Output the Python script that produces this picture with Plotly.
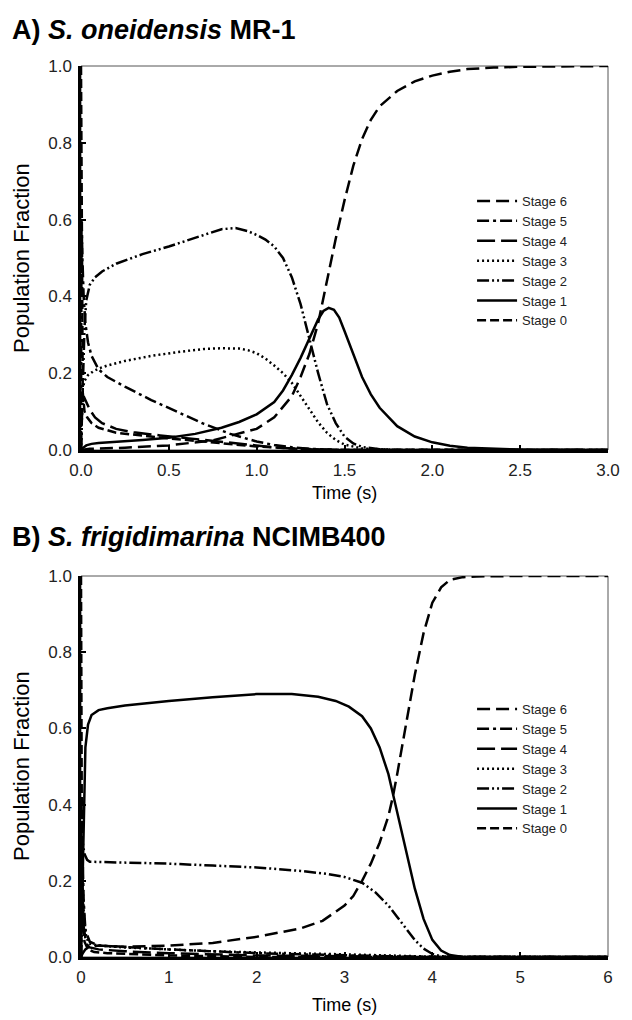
import plotly.graph_objects as go

# ---------------- Panel A: S. oneidensis MR-1 (time in s, fraction) ----------------
a_t6 = [0, 0.05, 0.25, 0.5, 0.75, 1.0, 1.1, 1.2, 1.25, 1.3, 1.35, 1.4, 1.45, 1.5, 1.55, 1.6, 1.65, 1.7, 1.8, 1.9, 2.0, 2.1, 2.2, 2.35, 2.5, 3.0]
a_f6 = [0, 0.003, 0.006, 0.012, 0.025, 0.055, 0.085, 0.14, 0.19, 0.25, 0.33, 0.44, 0.55, 0.65, 0.74, 0.81, 0.86, 0.895, 0.935, 0.96, 0.975, 0.985, 0.992, 0.996, 0.998, 1.0]

a_t5 = [0, 0.003, 0.008, 0.015, 0.025, 0.04, 0.06, 0.1, 0.15, 0.25, 0.4, 0.55, 0.7, 0.85, 1.0, 1.1, 1.2, 1.3, 1.4, 1.5, 1.7, 3.0]
a_f5 = [0, 0.6, 0.5, 0.4, 0.33, 0.28, 0.245, 0.21, 0.19, 0.165, 0.13, 0.098, 0.068, 0.042, 0.022, 0.013, 0.007, 0.003, 0.001, 0, 0, 0]

a_t4 = [0, 0.005, 0.015, 0.03, 0.05, 0.08, 0.12, 0.2, 0.3, 0.45, 0.6, 0.75, 0.9, 1.0, 1.1, 1.2, 1.3, 1.4, 3.0]
a_f4 = [0, 0.1, 0.14, 0.125, 0.105, 0.085, 0.07, 0.055, 0.046, 0.038, 0.031, 0.024, 0.016, 0.011, 0.007, 0.004, 0.002, 0, 0]

a_t3 = [0, 0.005, 0.01, 0.02, 0.04, 0.07, 0.1, 0.15, 0.25, 0.4, 0.55, 0.7, 0.8, 0.9, 0.95, 1.0, 1.05, 1.1, 1.15, 1.2, 1.25, 1.3, 1.35, 1.4, 1.45, 1.5, 1.6, 1.8, 3.0]
a_f3 = [0, 0.1, 0.16, 0.18, 0.195, 0.205, 0.212, 0.22, 0.232, 0.245, 0.255, 0.263, 0.265, 0.264, 0.26, 0.252, 0.238, 0.22, 0.2, 0.175, 0.14, 0.105, 0.072, 0.045, 0.026, 0.014, 0.004, 0, 0]

a_t2 = [0, 0.005, 0.01, 0.02, 0.03, 0.05, 0.08, 0.12, 0.2, 0.35, 0.5, 0.65, 0.8, 0.88, 0.95, 1.0, 1.05, 1.1, 1.15, 1.2, 1.25, 1.3, 1.35, 1.4, 1.45, 1.5, 1.55, 1.6, 1.7, 1.8, 3.0]
a_f2 = [0, 0.1, 0.2, 0.32, 0.39, 0.43, 0.45, 0.465, 0.485, 0.51, 0.53, 0.553, 0.575, 0.578, 0.57, 0.56, 0.548, 0.53, 0.5, 0.45, 0.38, 0.29, 0.2, 0.12, 0.07, 0.035, 0.017, 0.008, 0.002, 0, 0]

a_t1 = [0, 0.01, 0.03, 0.06, 0.1, 0.2, 0.35, 0.5, 0.65, 0.8, 0.9, 1.0, 1.1, 1.15, 1.2, 1.25, 1.3, 1.35, 1.38, 1.41, 1.44, 1.47, 1.5, 1.55, 1.6, 1.65, 1.7, 1.8, 1.9, 2.0, 2.1, 2.2, 2.35, 2.5, 3.0]
a_f1 = [0, 0.005, 0.012, 0.016, 0.018, 0.021, 0.026, 0.032, 0.042, 0.058, 0.073, 0.093, 0.125, 0.155, 0.195, 0.24, 0.29, 0.34, 0.362, 0.37, 0.365, 0.345, 0.31, 0.25, 0.19, 0.145, 0.11, 0.062, 0.035, 0.02, 0.011, 0.006, 0.003, 0.001, 0]

a_t0 = [0, 0.003, 0.006, 0.01, 0.02, 0.035, 0.06, 0.1, 0.2, 0.35, 0.5, 0.7, 0.9, 1.0, 1.2, 1.4, 3.0]
a_f0 = [1.0, 0.7, 0.35, 0.15, 0.1, 0.085, 0.07, 0.058, 0.045, 0.037, 0.03, 0.022, 0.013, 0.009, 0.004, 0.001, 0]

# ---------------- Panel B: S. frigidimarina NCIMB400 ----------------
b_t6 = [0, 0.02, 0.05, 0.1, 0.2, 0.5, 1.0, 1.5, 2.0, 2.5, 2.75, 3.0, 3.1, 3.2, 3.3, 3.4, 3.5, 3.55, 3.6, 3.7, 3.8, 3.9, 4.0, 4.1, 4.2, 4.35, 4.5, 5.0, 6.0]
b_f6 = [0, 0.01, 0.02, 0.028, 0.03, 0.027, 0.03, 0.037, 0.053, 0.075, 0.095, 0.135, 0.16, 0.2, 0.245, 0.3, 0.37, 0.42, 0.48, 0.61, 0.74, 0.85, 0.93, 0.97, 0.99, 0.997, 0.999, 1.0, 1.0]

b_t5 = [0, 0.005, 0.015, 0.03, 0.05, 0.1, 0.2, 0.4, 0.7, 1.0, 1.5, 2.0, 2.5, 3.0, 3.5, 4.0, 6.0]
b_f5 = [0, 0.42, 0.3, 0.15, 0.07, 0.04, 0.03, 0.027, 0.024, 0.02, 0.015, 0.01, 0.007, 0.004, 0.002, 0, 0]

b_t4 = [0, 0.005, 0.015, 0.03, 0.06, 0.1, 0.2, 0.5, 1.0, 1.5, 2.0, 3.0, 4.0, 6.0]
b_f4 = [0, 0.3, 0.2, 0.08, 0.035, 0.025, 0.02, 0.015, 0.01, 0.006, 0.004, 0.002, 0, 0]

b_t3 = [0, 0.005, 0.015, 0.03, 0.06, 0.1, 0.2, 0.5, 1.0, 1.5, 2.0, 2.5, 3.0, 3.5, 4.0, 6.0]
b_f3 = [0, 0.15, 0.22, 0.12, 0.05, 0.035, 0.03, 0.025, 0.02, 0.015, 0.012, 0.01, 0.007, 0.004, 0.001, 0]

b_t2 = [0, 0.01, 0.02, 0.04, 0.07, 0.1, 0.5, 1.0, 1.5, 2.0, 2.5, 2.8, 3.0, 3.2, 3.35, 3.5, 3.6, 3.7, 3.8, 3.9, 4.0, 4.1, 4.3, 6.0]
b_f2 = [0, 0.15, 0.3, 0.27, 0.255, 0.25, 0.248, 0.245, 0.24, 0.235, 0.226, 0.218, 0.21, 0.195, 0.17, 0.135, 0.105, 0.075, 0.045, 0.022, 0.008, 0.002, 0, 0]

b_t1 = [0, 0.01, 0.03, 0.05, 0.08, 0.12, 0.2, 0.3, 0.5, 1.0, 1.5, 2.0, 2.4, 2.7, 2.9, 3.05, 3.2, 3.3, 3.4, 3.5, 3.55, 3.6, 3.7, 3.8, 3.9, 4.0, 4.1, 4.2, 4.35, 6.0]
b_f1 = [0, 0.1, 0.35, 0.55, 0.61, 0.635, 0.648, 0.653, 0.66, 0.672, 0.682, 0.69, 0.69, 0.683, 0.672, 0.657, 0.632, 0.6, 0.55, 0.48, 0.43, 0.38, 0.28, 0.18, 0.1, 0.045, 0.017, 0.005, 0, 0]

b_t0 = [0, 0.005, 0.01, 0.02, 0.04, 0.08, 0.15, 0.3, 0.6, 1.0, 1.5, 2.0, 6.0]
b_f0 = [1.0, 0.6, 0.3, 0.1, 0.04, 0.02, 0.013, 0.01, 0.007, 0.004, 0.002, 0, 0]

stage_names = ["Stage 6", "Stage 5", "Stage 4", "Stage 3", "Stage 2", "Stage 1", "Stage 0"]
x_ticks_a = [0, 0.5, 1.0, 1.5, 2.0, 2.5, 3.0]
x_ticks_b = [0, 1, 2, 3, 4, 5, 6]
y_ticks = [0, 0.2, 0.4, 0.6, 0.8, 1.0]

dashes = ["13px,6px", "12px,4px,3px,4px", "18px,6px", "2px,3px",
          "12px,3px,2px,3px,2px,3px", "solid", "9px,4px"]

FONT = "Liberation Sans, Arial, Helvetica, sans-serif"
W, H = 632, 1020
ML, MR, MT, MB = 81, 16, 66, 63
PH = H - MT - MB
PW = W - ML - MR


def py(Y):
    return (H - MB - Y) / PH


def px(X):
    return (X - ML) / PW


fig = go.Figure()

series_a = [(a_t6, a_f6), (a_t5, a_f5), (a_t4, a_f4), (a_t3, a_f3), (a_t2, a_f2), (a_t1, a_f1), (a_t0, a_f0)]
series_b = [(b_t6, b_f6), (b_t5, b_f5), (b_t4, b_f4), (b_t3, b_f3), (b_t2, b_f2), (b_t1, b_f1), (b_t0, b_f0)]

for i, (t, f) in enumerate(series_a):
    fig.add_trace(go.Scatter(x=t, y=f, mode="lines", name=stage_names[i],
                             line=dict(color="black", width=2.5, dash=dashes[i]),
                             xaxis="x", yaxis="y", legend="legend"))
for i, (t, f) in enumerate(series_b):
    fig.add_trace(go.Scatter(x=t, y=f, mode="lines", name=stage_names[i],
                             line=dict(color="black", width=2.5, dash=dashes[i]),
                             xaxis="x2", yaxis="y2", legend="legend2"))

dom_a = [py(450), 1.0]
dom_b = [0.0, py(576)]

axis_common = dict(showline=True, linecolor="black", linewidth=2.5, mirror=False,
                   ticks="inside", ticklen=5, tickwidth=1.5, tickcolor="black",
                   showgrid=False, zeroline=False, ticklabelstandoff=3,
                   tickfont=dict(family=FONT, size=17, color="#222"))

leg_common = dict(xanchor="left", yanchor="top", bgcolor="rgba(0,0,0,0)",
                  font=dict(family=FONT, size=13, color="#222"),
                  itemwidth=40, tracegroupgap=0)

fig.update_layout(
    width=W, height=H,
    margin=dict(l=ML, r=MR, t=MT, b=MB),
    paper_bgcolor="white", plot_bgcolor="white",
    font=dict(family=FONT, color="black"),
    xaxis=dict(domain=[0, 1], range=[0, 3], tickvals=x_ticks_a, tickformat=".1f",
               anchor="y", **axis_common),
    yaxis=dict(domain=dom_a, range=[0, 1], tickvals=y_ticks, tickformat=".1f",
               anchor="x", **axis_common),
    xaxis2=dict(domain=[0, 1], range=[0, 6], tickvals=x_ticks_b, tickformat="d",
                anchor="y2", **axis_common),
    yaxis2=dict(domain=dom_b, range=[0, 1], tickvals=y_ticks, tickformat=".1f",
                anchor="x2", **axis_common),
    legend=dict(x=px(478), y=py(186), **leg_common),
    legend2=dict(x=px(478), y=py(694), **leg_common),
    showlegend=True,
)

# thin frame on top/right
for xr, yr in (("x domain", "y domain"), ("x2 domain", "y2 domain")):
    fig.add_shape(type="rect", xref=xr, yref=yr, x0=0, x1=1, y0=0, y1=1,
                  line=dict(color="#555", width=1), layer="below")

ann = [
    dict(text="<b>A) <i>S. oneidensis</i> MR-1</b>", x=px(9), y=py(30), size=27, xa="left"),
    dict(text="<b>B) <i>S. frigidimarina</i> NCIMB400</b>", x=px(9), y=py(537), size=27, xa="left"),
    dict(text="Time (s)", x=0.5, y=py(493), size=18, xa="center"),
    dict(text="Time (s)", x=0.5, y=py(1005), size=18, xa="center"),
]
for a in ann:
    fig.add_annotation(text=a["text"], x=a["x"], y=a["y"], xref="paper", yref="paper",
                       xanchor=a["xa"], yanchor="middle", showarrow=False,
                       font=dict(family=FONT, size=a["size"], color="black"))
for yc in (258, 766):
    fig.add_annotation(text="Population Fraction", x=px(20), y=py(yc), xref="paper", yref="paper",
                       xanchor="center", yanchor="middle", textangle=-90, showarrow=False,
                       font=dict(family=FONT, size=22, color="black"))

fig.write_html("out.html", config={"displayModeBar": False},
               post_script="document.body.style.margin='0';document.body.style.overflow='hidden';")
